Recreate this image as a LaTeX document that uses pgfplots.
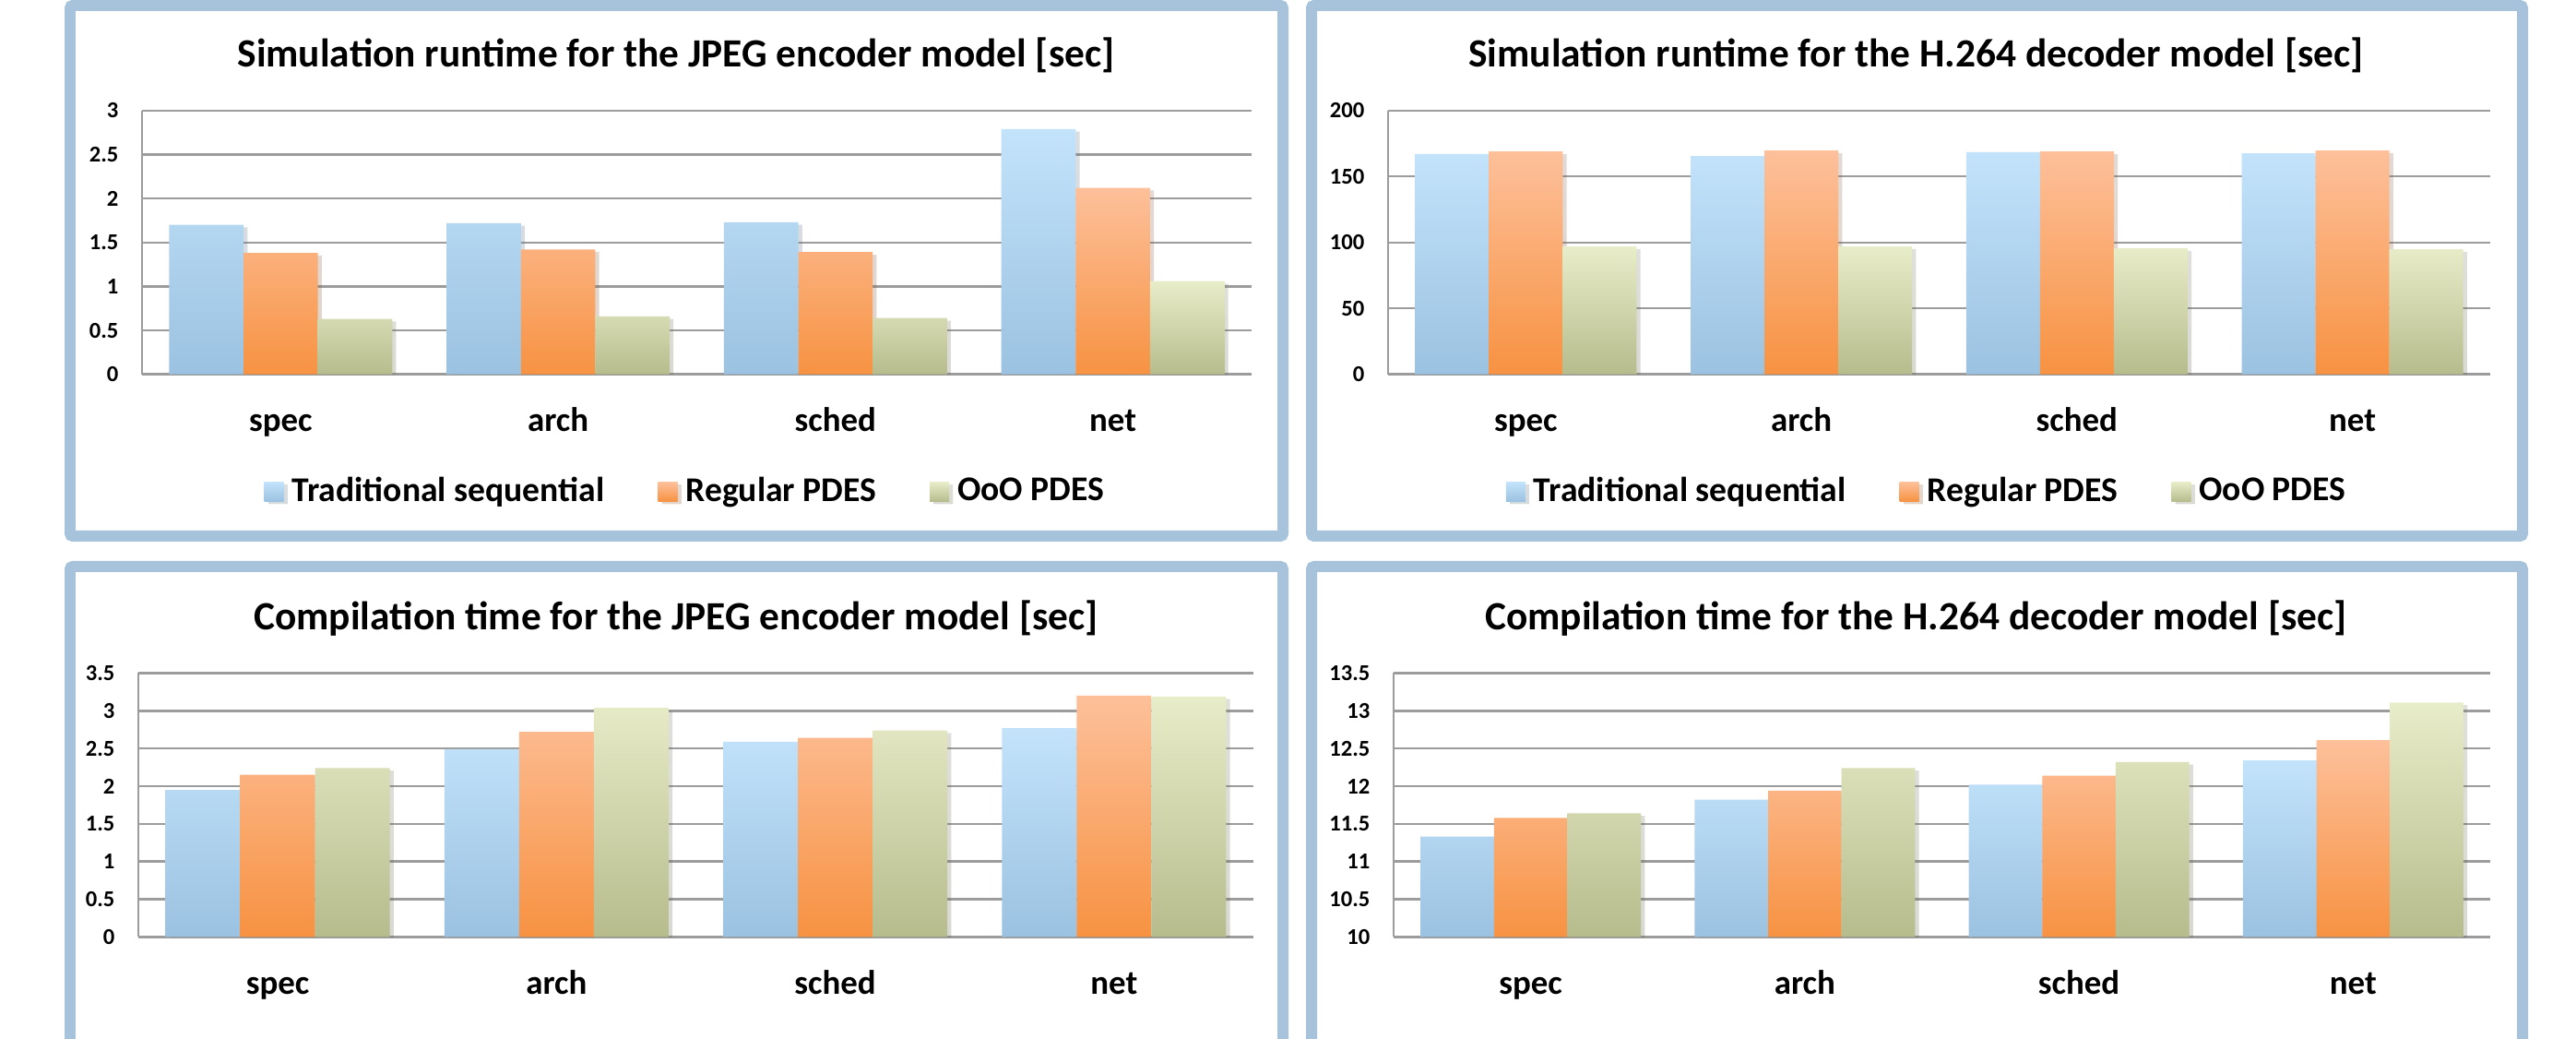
\documentclass[border=0pt]{standalone}
\usepackage{fontspec}
\setmainfont{Carlito}
\usepackage{pgfplots}
\usepackage{pgfplotstable}
\usetikzlibrary{shadows}
\pgfplotsset{compat=1.18}
\definecolor{blueT}{HTML}{C3E3FB}
\definecolor{blueB}{HTML}{9BC2E1}
\definecolor{orangeT}{HTML}{FDC09A}
\definecolor{orangeB}{HTML}{F79242}
\definecolor{greenT}{HTML}{E8EDC9}
\definecolor{greenB}{HTML}{B7BC8D}
\definecolor{frameblue}{HTML}{A6C3DB}
\definecolor{gridgray}{HTML}{9C9C9C}

\pgfplotstableread{
x trad reg ooo
0 1.70 1.38 0.63
1 1.72 1.42 0.66
2 1.73 1.39 0.64
3 2.79 2.12 1.06
}\simjpeg
\pgfplotstableread{
x trad reg ooo
0 167.1 168.9 96.9
1 165.5 169.7 96.9
2 168.4 168.9 95.6
3 167.6 169.7 94.8
}\simh
\pgfplotstableread{
x trad reg ooo
0 1.95 2.15 2.24
1 2.49 2.72 3.04
2 2.59 2.64 2.74
3 2.77 3.20 3.19
}\compjpeg
\pgfplotstableread{
x trad reg ooo
0 11.33 11.58 11.64
1 11.82 11.94 12.24
2 12.02 12.14 12.32
3 12.34 12.61 13.11
}\comph

\pgfplotsset{
  sq legend/.style 2 args={legend image code/.code={\path[top color=#1,bottom color=#2] (0cm,-0.105cm) rectangle (0.21cm,0.105cm);}},
  barshadow/.style={drop shadow={shadow xshift=1.2pt, shadow yshift=-0.8pt, fill=black, opacity=0.13}},
  s1/.style={draw=none, top color=blueT, bottom color=blueB, barshadow, sq legend={blueT}{blueB}},
  s2/.style={draw=none, top color=orangeT, bottom color=orangeB, barshadow, sq legend={orangeT}{orangeB}},
  s3/.style={draw=none, top color=greenT, bottom color=greenB, barshadow, sq legend={greenT}{greenB}},
  panel/.style={
    scale only axis,
    anchor=south west,
    ybar=0pt,
    bar width=0.268,
    enlargelimits=false,
    xmin=-0.5, xmax=3.5,
    xtick={0,1,2,3},
    xticklabels={spec,arch,sched,net},
    axis lines*=left,
    axis line style={-},
    ymajorgrids,
    major grid style={line width=0.7pt, color=gridgray},
    x axis line style={line width=0.7pt, color=gridgray, -},
    y axis line style={line width=0.4pt, color=gridgray, -},
    major tick length=0pt,
    xticklabel style={font=\fontsize{10.5}{12}\selectfont\bfseries, anchor=base, yshift=-0.62cm, inner sep=0pt},
    yticklabel style={font=\fontsize{7}{8}\selectfont\bfseries, anchor=east, inner sep=0pt, xshift=-0.25cm},
    /pgf/number format/assume math mode=true,
    legend columns=3,
    legend style={draw=none, fill=none, inner sep=0pt, outer sep=0pt,
      font=\fontsize{10.7}{12}\selectfont\bfseries,
      nodes={inner sep=0pt},
      at={(0.1103,-0.445)}, anchor=west,
      /tikz/every odd column/.append style={column sep=0.09cm},
      /tikz/every even column/.append style={column sep=0.58cm}},
  },
}

\begin{document}
\begin{tikzpicture}
\useasboundingbox (0,0) rectangle (27.93cm,11.26cm);
\fill[white] (0,0) rectangle (27.93cm,11.26cm);
\clip (0,0) rectangle (27.93cm,11.26cm);

\draw[frameblue, line width=0.12cm, rounded corners=0.03cm] (0.76cm,5.45cm) rectangle (13.91cm,11.20cm);
\draw[frameblue, line width=0.12cm, rounded corners=0.03cm] (14.22cm,5.45cm) rectangle (27.35cm,11.20cm);
\draw[frameblue, line width=0.12cm, rounded corners=0.03cm] (0.76cm,-0.74cm) rectangle (13.91cm,5.12cm);
\draw[frameblue, line width=0.12cm, rounded corners=0.03cm] (14.22cm,-0.74cm) rectangle (27.35cm,5.12cm);
\node[anchor=base, inner sep=0pt, font=\fontsize{12.35}{14}\selectfont\bfseries] at (7.33cm,10.533cm) {Simulation runtime for the JPEG encoder model [sec]};
\node[anchor=base, inner sep=0pt, font=\fontsize{12.35}{14}\selectfont\bfseries] at (20.775cm,10.533cm) {Simulation runtime for the H.264 decoder model [sec]};
\node[anchor=base, inner sep=0pt, font=\fontsize{12.35}{14}\selectfont\bfseries] at (7.33cm,4.438cm) {Compilation time for the JPEG encoder model [sec]};
\node[anchor=base, inner sep=0pt, font=\fontsize{12.35}{14}\selectfont\bfseries] at (20.774cm,4.438cm) {Compilation time for the H.264 decoder model [sec]};

% top left
\begin{axis}[panel, at={(1.54cm,7.203cm)}, width=12.03cm, height=2.859cm,
  ymin=0, ymax=3, ytick={0,0.5,...,3}]
\addplot[s1] table[x=x,y=trad] {\simjpeg};
\addplot[s2] table[x=x,y=reg] {\simjpeg};
\addplot[s3] table[x=x,y=ooo] {\simjpeg};
\legend{Traditional sequential, Regular PDES, OoO PDES}
\end{axis}

% top right
\begin{axis}[panel, at={(15.05cm,7.203cm)}, width=11.95cm, height=2.859cm,
  ymin=0, ymax=200, ytick={0,50,...,200}, legend style={at={(0.107,-0.445)}}]
\addplot[s1] table[x=x,y=trad] {\simh};
\addplot[s2] table[x=x,y=reg] {\simh};
\addplot[s3] table[x=x,y=ooo] {\simh};
\legend{Traditional sequential, Regular PDES, OoO PDES}
\end{axis}

% bottom left
\begin{axis}[panel, at={(1.50cm,1.107cm)}, width=12.09cm, height=2.858cm,
  ymin=0, ymax=3.5, ytick={0,0.5,...,3.5}, legend style={at={(0.113,-0.445)}}]
\addplot[s1] table[x=x,y=trad] {\compjpeg};
\addplot[s2] table[x=x,y=reg] {\compjpeg};
\addplot[s3] table[x=x,y=ooo] {\compjpeg};
\legend{Traditional sequential, Regular PDES, OoO PDES}
\end{axis}

% bottom right (axis starts at 10)
\begin{axis}[panel, at={(15.11cm,1.107cm)}, width=11.89cm, height=2.858cm,
  ymin=0, ymax=3.5, ytick={0,0.5,...,3.5},
  yticklabels={10,10.5,11,11.5,12,12.5,13,13.5}, legend style={at={(0.137,-0.445)}}]
\addplot[s1] table[x=x,y expr=\thisrow{trad}-10] {\comph};
\addplot[s2] table[x=x,y expr=\thisrow{reg}-10] {\comph};
\addplot[s3] table[x=x,y expr=\thisrow{ooo}-10] {\comph};
\legend{Traditional sequential, Regular PDES, OoO PDES}
\end{axis}
\end{tikzpicture}
\end{document}
